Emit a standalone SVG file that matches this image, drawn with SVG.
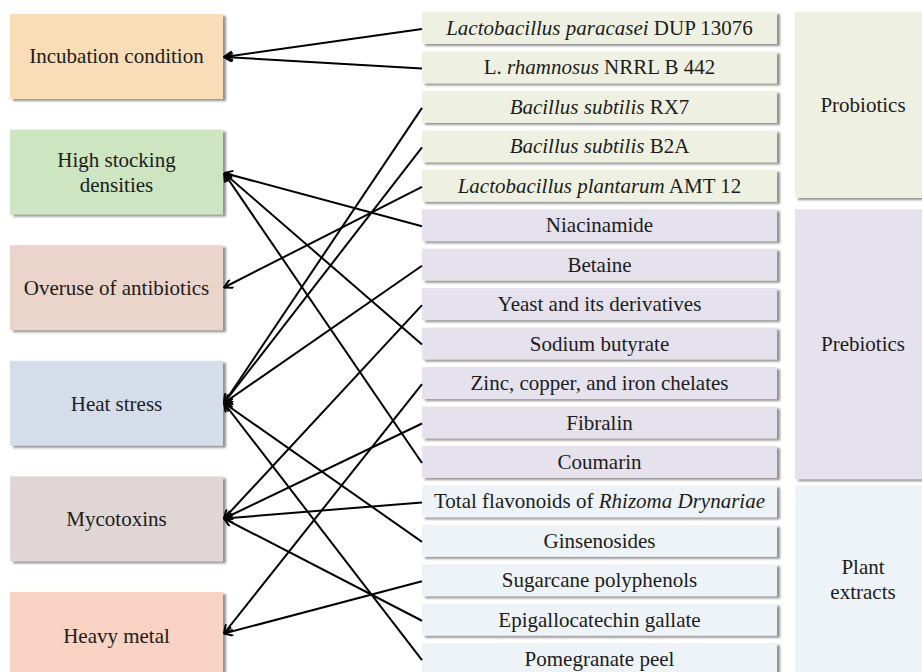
<svg xmlns="http://www.w3.org/2000/svg" width="922" height="672" viewBox="0 0 922 672">
<defs>
<filter id="sh" x="-5%" y="-5%" width="115%" height="120%">
<feDropShadow dx="3" dy="2" stdDeviation="1" flood-color="#6e6e6e" flood-opacity="0.75"/>
</filter>
<marker id="ah" viewBox="0 0 10 10" refX="9.5" refY="5" markerWidth="10" markerHeight="10" markerUnits="userSpaceOnUse" orient="auto">
<path d="M1,0.5 L9.5,5 L1,9.5" fill="none" stroke="#000" stroke-width="2"/>
</marker>
</defs>
<style>
text{font-size:21px;fill:#1c1c1c;text-anchor:middle}
.i{font-style:italic}
.box{filter:url(#sh)}
.pro{fill:#EEF1E1}
.pre{fill:#E5E2EE}
.pla{fill:#EEF3F8}
.conn line{stroke:#000;stroke-width:2;marker-end:url(#ah)}
</style>
<rect width="922" height="672" fill="#fff"/>
<g font-family="'Liberation Serif', 'DejaVu Serif', serif">
<g id="incubation"><rect class="box" x="10" y="14" width="213" height="85" fill="#F9DDB6"/><text x="116.5" y="63">Incubation condition</text></g>
<g id="stocking"><rect class="box" x="10" y="129.6" width="213" height="85" fill="#CDE5C1"/><text x="116.5" y="167">High stocking</text><text x="116.5" y="192">densities</text></g>
<g id="antibiotics"><rect class="box" x="10" y="245.2" width="213" height="85" fill="#EBD5CB"/><text x="116.5" y="295">Overuse of antibiotics</text></g>
<g id="heat"><rect class="box" x="10" y="360.8" width="213" height="85" fill="#D5DDEA"/><text x="116.5" y="411">Heat stress</text></g>
<g id="mycotoxins"><rect class="box" x="10" y="476.4" width="213" height="85" fill="#DFD6D5"/><text x="116.5" y="526">Mycotoxins</text></g>
<g id="heavymetal"><rect class="box" x="10" y="592" width="213" height="90" fill="#F8D2C2"/><text x="116.5" y="643">Heavy metal</text></g>

<g id="r0"><rect class="box pro" x="422" y="12" width="355" height="32"/><text x="599.5" y="35"><tspan class="i">Lactobacillus paracasei</tspan> DUP 13076</text></g>
<g id="r1"><rect class="box pro" x="422" y="51.45" width="355" height="32"/><text x="599.5" y="74.45">L. <tspan class="i">rhamnosus</tspan> NRRL B 442</text></g>
<g id="r2"><rect class="box pro" x="422" y="90.9" width="355" height="32"/><text x="599.5" y="113.9"><tspan class="i">Bacillus subtilis</tspan> RX7</text></g>
<g id="r3"><rect class="box pro" x="422" y="130.35" width="355" height="32"/><text x="599.5" y="153.35"><tspan class="i">Bacillus subtilis</tspan> B2A</text></g>
<g id="r4"><rect class="box pro" x="422" y="169.8" width="355" height="32"/><text x="599.5" y="192.8"><tspan class="i">Lactobacillus plantarum</tspan> AMT 12</text></g>
<g id="r5"><rect class="box pre" x="422" y="209.25" width="355" height="32"/><text x="599.5" y="232.25">Niacinamide</text></g>
<g id="r6"><rect class="box pre" x="422" y="248.7" width="355" height="32"/><text x="599.5" y="271.7">Betaine</text></g>
<g id="r7"><rect class="box pre" x="422" y="288.15" width="355" height="32"/><text x="599.5" y="311.15">Yeast and its derivatives</text></g>
<g id="r8"><rect class="box pre" x="422" y="327.6" width="355" height="32"/><text x="599.5" y="350.6">Sodium butyrate</text></g>
<g id="r9"><rect class="box pre" x="422" y="367.05" width="355" height="32"/><text x="599.5" y="390.05">Zinc, copper, and iron chelates</text></g>
<g id="r10"><rect class="box pre" x="422" y="406.5" width="355" height="32"/><text x="599.5" y="429.5">Fibralin</text></g>
<g id="r11"><rect class="box pre" x="422" y="445.95" width="355" height="32"/><text x="599.5" y="468.95">Coumarin</text></g>
<g id="r12"><rect class="box pla" x="422" y="485.4" width="355" height="32"/><text x="599.5" y="508.4">Total flavonoids of <tspan class="i">Rhizoma Drynariae</tspan></text></g>
<g id="r13"><rect class="box pla" x="422" y="524.85" width="355" height="32"/><text x="599.5" y="547.85">Ginsenosides</text></g>
<g id="r14"><rect class="box pla" x="422" y="564.3" width="355" height="32"/><text x="599.5" y="587.3">Sugarcane polyphenols</text></g>
<g id="r15"><rect class="box pla" x="422" y="603.75" width="355" height="32"/><text x="599.5" y="626.75">Epigallocatechin gallate</text></g>
<g id="r16"><rect class="box pla" x="422" y="643.2" width="355" height="32"/><text x="599.5" y="666.2">Pomegranate peel</text></g>

<g id="probiotics"><rect class="box pro" x="795" y="12" width="140" height="186"/><text x="863" y="112">Probiotics</text></g>
<g id="prebiotics"><rect class="box pre" x="795" y="209.25" width="140" height="270"/><text x="863" y="351">Prebiotics</text></g>
<g id="plantextracts"><rect class="box pla" x="795" y="485.4" width="140" height="200"/><text x="863" y="574">Plant</text><text x="863" y="599">extracts</text></g>
</g>
<g id="connectors" class="conn">
<line x1="422" y1="29" x2="224" y2="57"/>
<line x1="422" y1="68.45" x2="224" y2="57"/>
<line x1="422" y1="107.9" x2="224" y2="403"/>
<line x1="422" y1="147.35" x2="224" y2="403"/>
<line x1="422" y1="186.8" x2="224" y2="287.5"/>
<line x1="422" y1="226.25" x2="224" y2="173"/>
<line x1="422" y1="265.7" x2="224" y2="403"/>
<line x1="422" y1="305.15" x2="224" y2="518.5"/>
<line x1="422" y1="344.6" x2="224" y2="173"/>
<line x1="422" y1="384.05" x2="224" y2="633.5"/>
<line x1="422" y1="423.5" x2="224" y2="518.5"/>
<line x1="422" y1="462.95" x2="224" y2="173"/>
<line x1="422" y1="502.4" x2="224" y2="518.5"/>
<line x1="422" y1="541.85" x2="224" y2="403"/>
<line x1="422" y1="581.3" x2="224" y2="633.5"/>
<line x1="422" y1="620.75" x2="224" y2="518.5"/>
<line x1="422" y1="660.2" x2="224" y2="403"/>
</g>
</svg>
